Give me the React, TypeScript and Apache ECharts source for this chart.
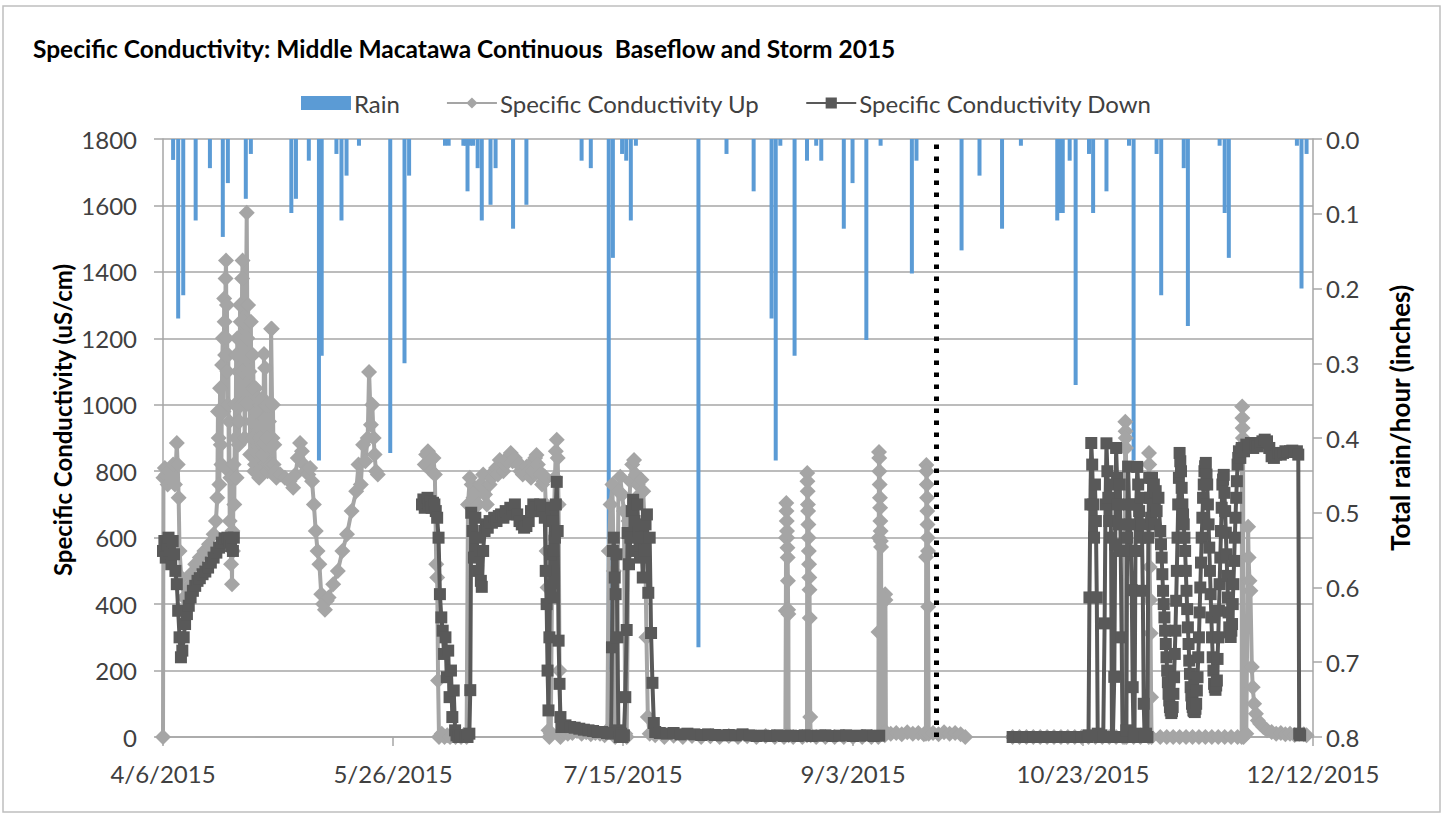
import React, { useEffect, useRef } from "react";
import * as echarts from "echarts";

// X axis runs in days after 4/6/2015, one tick every 50 days.
const xTickLabels = ["4/6/2015", "5/26/2015", "7/15/2015", "9/3/2015", "10/23/2015", "12/12/2015"];
const dayStep = 50;
const dayMax = 250;

// Dotted divider between the baseflow and storm periods (9/21/2015).
const dividerDay = 168;

// Hourly rain totals: [day, inches]
const rain: [number, number][] = [
  [2.2, 0.028], [3.3, 0.24], [4.4, 0.209], [7.1, 0.109], [10.2, 0.039], [13.0, 0.131], [14.1, 0.059],
  [18.0, 0.08], [19.1, 0.02], [27.9, 0.099], [28.9, 0.08], [31.7, 0.029], [33.9, 0.43], [34.5, 0.29],
  [37.7, 0.02], [38.8, 0.109], [39.9, 0.049], [42.6, 0.009], [49.4, 0.42], [52.5, 0.3], [53.5, 0.049],
  [61.3, 0.009], [62.1, 0.009], [65.3, 0.009], [65.8, 0.009], [66.2, 0.07], [66.7, 0.009], [67.4, 0.009],
  [68.4, 0.039], [69.3, 0.109], [71.2, 0.088], [72.3, 0.039], [76.1, 0.12], [79.0, 0.088], [91.0, 0.029],
  [93.0, 0.039], [96.9, 0.71], [97.8, 0.159], [99.8, 0.02], [100.7, 0.029], [101.7, 0.109], [102.8, 0.009],
  [116.4, 0.68], [122.5, 0.02], [128.4, 0.07], [132.3, 0.24], [133.2, 0.43], [134.2, 0.009], [137.3, 0.29],
  [140.0, 0.029], [142.0, 0.009], [143.1, 0.029], [148.0, 0.12], [149.9, 0.059], [152.9, 0.269],
  [156.0, 0.009], [162.8, 0.18], [163.8, 0.029], [173.6, 0.149], [177.5, 0.049], [182.4, 0.12],
  [186.5, 0.009], [194.4, 0.109], [194.9, 0.099], [195.6, 0.099], [197.1, 0.029], [198.4, 0.329],
  [201.3, 0.02], [202.2, 0.099], [205.1, 0.07], [210.0, 0.009], [211.0, 0.43], [216.0, 0.02],
  [217.0, 0.209], [221.9, 0.039], [222.8, 0.25], [229.7, 0.009], [230.8, 0.099], [231.7, 0.159],
  [246.5, 0.009], [247.5, 0.2], [248.6, 0.02],
];

// Specific conductivity, upstream sonde: [day, uS/cm]; null breaks the line.
const conductivityUp: [number, number | null][] = [
  [0, 0], [0.1, 780], [0.4, 810], [0.7, 790], [1.0, 760], [1.4, 800], [1.8, 780], [2.2, 820], [2.6, 760],
  [3.0, 885], [3.2, 820], [3.4, 720], [3.6, 560], [4.0, 480], [4.6, 420], [5.2, 450], [6.0, 490], [7.0, 520],
  [8.0, 540], [9.0, 560], [10.0, 580], [11.0, 610], [11.5, 650],
  [11.8, 720], [11.95, 980], [12.1, 900], [12.25, 760], [12.4, 1050], [12.55, 880], [12.7, 820],
  [12.85, 1120], [13.0, 1200], [13.15, 980], [13.3, 1320], [13.4, 1250], [13.5, 1150], [13.6, 1380],
  [13.7, 1434], [13.8, 1200], [13.9, 1300], [14.0, 1100], [14.1, 1000], [14.2, 1150], [14.3, 800],
  [14.4, 950], [14.5, 650], [14.65, 780], [14.8, 520], [14.9, 600], [15.0, 460], [15.1, 620], [15.2, 560],
  [15.35, 820], [15.5, 700], [15.65, 1000], [15.8, 900], [15.9, 1150], [16.0, 780], [16.15, 1200],
  [16.3, 1100], [16.45, 880], [16.6, 950], [16.75, 1300], [16.9, 1250], [17.0, 1000], [17.1, 1150],
  [17.2, 1380], [17.3, 1434], [17.45, 1100], [17.6, 1250], [17.75, 900], [17.9, 1000], [18.05, 1300],
  [18.2, 1578], [18.35, 1200], [18.5, 1300], [18.65, 1000], [18.8, 1100], [18.95, 850], [19.1, 1250],
  [19.25, 950], [19.4, 900], [19.55, 1150], [19.7, 1050], [19.85, 800], [20.0, 820], [20.15, 1050],
  [20.3, 980], [20.45, 800], [20.6, 850], [20.75, 1020], [20.9, 780], [21.05, 900], [21.2, 1000],
  [21.35, 800], [21.5, 880], [21.65, 1020], [21.8, 850], [21.95, 1153], [22.1, 1000], [22.2, 1111],
  [22.35, 880], [22.5, 1000], [22.6, 900], [22.75, 800], [22.9, 820], [23.05, 950], [23.2, 1000],
  [23.35, 820], [23.5, 1229], [23.65, 1229], [23.8, 900], [23.9, 1000], [24.05, 820], [24.2, 880],
  [24.35, 800], [24.5, 800], [24.65, 780], [24.8, 790],
  [25.5, 790], [26.5, 780], [27.5, 770], [28.3, 750], [28.8, 790], [29.3, 840], [29.8, 885],
  [30.2, 860], [30.6, 820], [31.0, 800], [31.6, 790], [32.0, 810], [32.4, 770], [32.8, 700], [33.2, 620],
  [33.6, 560], [34.0, 520], [34.4, 430], [34.8, 400], [35.2, 383], [35.6, 410], [36.0, 420], [37.0, 460],
  [38.0, 500], [39.0, 560], [40.0, 610], [41.0, 680], [42.0, 740], [42.5, 820], [43.0, 760], [43.5, 880],
  [44.0, 830], [44.5, 900], [44.8, 1099], [45.2, 940], [45.5, 1000], [45.8, 900], [46.0, 850],
  [46.3, 800], [46.7, 790], [46.8, null],
  [56.9, 820], [57.2, 850], [57.6, 860], [58.0, 830], [58.4, 800], [58.8, 840], [59.1, 790], [59.4, 520],
  [59.6, 480], [59.8, 170], [60.0, 0], [60.6, 10], [61.2, 0], [61.8, 5], [62.4, 0], [63.0, 8], [63.6, 0],
  [64.2, 5], [64.8, 0], [65.4, 6], [66.0, 0], [66.3, 700], [66.7, 780], [67.1, 760], [67.5, 720],
  [68.0, 740], [68.5, 700], [69.0, 760], [69.6, 790], [70.0, 730], [70.4, 700], [71.0, 760], [71.5, 780],
  [72.0, 800], [72.4, 810], [72.8, 790], [73.2, 834], [73.6, 810], [74.0, 800], [74.4, 820], [74.8, 830],
  [75.2, 845], [75.6, 855], [76.0, 830], [76.5, 840], [76.9, 830], [77.3, 820], [77.7, 800], [78.2, 790],
  [78.6, 800], [79.1, 814], [79.5, 800], [80.0, 780], [80.3, 800], [80.6, 830], [80.9, 840], [81.2, 849],
  [81.5, 820], [81.8, 800], [82.1, 790], [82.4, 760], [82.7, 770], [83.0, 783], [83.2, 700], [83.4, 560],
  [83.6, 450], [83.8, 20], [84.0, 0], [84.3, 10], [84.6, 500], [84.9, 600], [85.2, 780], [85.4, 860],
  [85.6, 895], [85.8, 840], [86.0, 700], [86.2, 200], [86.4, 0], [87.0, 15], [88.0, 10], [89.0, 12],
  [90.0, 18], [91.0, 10], [92.0, 14], [93.0, 8], [94.0, 12], [95.0, 10], [96.0, 5], [96.6, 20],
  [96.9, 560], [97.3, 700], [97.7, 760], [98.0, 500], [98.3, 0], [98.6, 20], [99.0, 740], [99.4, 783],
  [99.8, 730], [100.2, 680], [100.5, 10], [100.8, 0], [101.2, 650], [101.6, 770], [102.0, 820],
  [102.4, 834], [102.8, 790], [103.2, 760], [103.6, 730], [104.0, 774], [104.4, 740], [104.8, 600],
  [105.1, 300], [105.4, 60], [105.8, 10], [107, 5], [109, 0], [111, 4], [113, 0], [115, 3], [117, 0],
  [119, 2], [121, 0], [123, 3], [125, 0], [127, 2], [129, 0], [131, 3], [133, 0], [135, 0],
  [135.3, 5], [135.4, 380], [135.45, 600], [135.5, 704], [135.55, 680], [135.6, 650], [135.65, 620],
  [135.7, 600], [135.75, 570], [135.8, 540], [135.85, 470], [135.9, 383], [135.95, 370], [136.0, 5],
  [137, 0], [139, 0], [140.0, 5], [140.05, 795], [140.1, 770], [140.15, 740], [140.2, 700], [140.25, 680],
  [140.3, 640], [140.35, 600], [140.4, 560], [140.45, 520], [140.5, 480], [140.55, 443], [140.6, 358],
  [140.7, 60], [140.8, 5], [142, 0], [144, 0], [146, 0], [148, 0], [150, 0], [152, 0], [154, 0],
  [155.5, 0], [155.55, 316], [155.6, 600], [155.65, 858], [155.7, 840], [155.75, 800], [155.8, 760],
  [155.85, 720], [155.9, 690], [155.95, 650], [156.0, 620], [156.05, 590], [156.1, 572], [156.2, 10],
  [156.9, 5], [157.0, 430], [157.05, 412], [157.15, 15], [158.2, 10], [159.4, 12], [160.6, 8],
  [161.8, 14], [163.0, 10], [164.2, 12], [165.4, 8], [165.85, 10], [165.9, 542], [165.95, 819],
  [166.0, 800], [166.05, 760], [166.1, 720], [166.15, 680], [166.2, 640], [166.25, 600], [166.3, 560],
  [166.35, 392], [166.45, 10], [167.4, 12], [168.6, 8], [169.8, 14], [171.0, 10], [172.2, 12], [173.4, 8],
  [174.4, 0], [174.5, null],
  [184.7, 0], [186.2, 0], [187.7, 0], [189.2, 0], [190.7, 0], [192.2, 0], [193.7, 0], [195.2, 0],
  [196.7, 0], [198.2, 0], [199.7, 0], [201.2, 0], [202.7, 0], [204.2, 0], [205.7, 0], [207.2, 0],
  [208.7, 0], [209.1, 0], [209.15, 870], [209.2, 949], [209.25, 920], [209.3, 900], [209.35, 870],
  [209.45, 0], [211, 0], [212.5, 0], [214.3, 0], [214.35, 855], [214.4, 820], [214.5, 512], [214.6, 412],
  [214.7, 312], [214.8, 120], [214.9, 0], [216.8, 0], [218.2, 0], [219.6, 0], [221, 0], [222.4, 0],
  [223.8, 0], [225.2, 0], [226.6, 0], [228, 0], [229.4, 0], [230.8, 0], [232.2, 0], [233.6, 0],
  [234.5, 0], [234.55, 870], [234.6, 995], [234.65, 960], [234.7, 930], [234.75, 900], [234.8, 880],
  [234.9, 0], [235.5, 10], [235.9, 633], [236.0, 540], [236.2, 470], [236.4, 440], [236.7, 211],
  [236.9, 150], [237.2, 100], [237.6, 70], [238.0, 50], [238.5, 40], [239.2, 30], [240.0, 20], [241, 15],
  [242, 10], [243, 12], [244, 8], [245, 10], [246, 6], [247, 10], [248, 8], [248.6, 5],
];

// Specific conductivity, downstream sonde: [day, uS/cm]; null breaks the line.
const conductivityDown: [number, number | null][] = [
  [0.0, 560], [0.3, 590], [0.6, 540], [0.9, 580], [1.2, 600], [1.5, 560], [1.8, 520], [2.1, 590],
  [2.4, 550], [2.7, 500], [3.0, 460], [3.3, 380], [3.6, 300], [3.9, 240], [4.2, 260], [4.5, 300],
  [4.8, 340], [5.2, 370], [5.6, 395], [6.0, 420], [6.5, 440], [7.0, 455], [7.5, 470], [8.0, 478],
  [8.6, 490], [9.2, 498], [9.8, 510], [10.4, 525], [11.0, 540], [11.6, 555], [12.2, 570], [12.8, 585],
  [13.4, 598], [14.0, 600], [14.4, 590], [14.8, 575], [15.2, 560], [15.4, 600], [15.5, null],
  [56.3, 700], [56.6, 715], [56.9, 690], [57.2, 705], [57.5, 720], [57.8, 700], [58.1, 710], [58.4, 690],
  [58.7, 705], [59.0, 700], [59.3, 680], [59.6, 660], [59.9, 600], [60.2, 430], [60.5, 360], [60.8, 320],
  [61.1, 250], [61.4, 300], [61.7, 180], [62.0, 260], [62.3, 120], [62.6, 200], [62.9, 60], [63.2, 140],
  [63.5, 20], [63.8, 5], [64.2, 0], [64.6, 5], [65.0, 0], [65.4, 5], [65.8, 0], [66.2, 0], [66.6, 10],
  [66.8, 141], [67.0, 675], [67.3, 620], [67.6, 540], [67.9, 660], [68.2, 600], [68.5, 500], [68.8, 560],
  [69.1, 470], [69.3, 452], [69.6, 560], [69.9, 620], [70.2, 640], [70.6, 630], [71.0, 650], [71.5, 645],
  [72.0, 660], [72.5, 650], [73.0, 665], [73.5, 670], [74.0, 660], [74.5, 680], [75.0, 670], [75.5, 690],
  [76.0, 685], [76.5, 700], [77.0, 670], [77.5, 650], [78.0, 640], [78.5, 630], [79.0, 635], [79.5, 650],
  [80.0, 680], [80.5, 700], [81.0, 690], [81.5, 680], [82.0, 700], [82.5, 680], [83.0, 660], [83.2, 500],
  [83.4, 400], [83.6, 200], [83.8, 80], [84.0, 300], [84.2, 550], [84.4, 690], [84.6, 650], [84.8, 560],
  [85.0, 420], [85.2, 600], [85.4, 700], [85.6, 768], [85.8, 620], [86.0, 290], [86.2, 160], [86.4, 60],
  [86.6, 30], [87.5, 35], [88.5, 30], [89.5, 28], [90.5, 25], [91.5, 22], [92.5, 20], [93.5, 18],
  [94.5, 15], [95.5, 15], [96.5, 12], [97.4, 10], [97.6, 270], [97.8, 560], [98.0, 600], [98.2, 480],
  [98.4, 430], [98.6, 550], [98.8, 300], [99.0, 20], [99.3, 0], [99.6, 10], [99.9, 0], [100.2, 5],
  [100.5, 120], [100.8, 322], [101.0, 614], [101.3, 520], [101.6, 600], [101.9, 680], [102.2, 714],
  [102.5, 650], [102.8, 560], [103.1, 700], [103.4, 620], [103.7, 540], [104.0, 600], [104.3, 480],
  [104.6, 560], [104.9, 640], [105.2, 670], [105.5, 434], [105.8, 600], [106.1, 313], [106.4, 163],
  [106.7, 42], [107.0, 15], [108, 12], [109.5, 10], [111, 12], [112.5, 8], [114, 10], [115.5, 8], [117, 6],
  [118.5, 8], [120, 6], [121.5, 5], [123, 6], [124.5, 5], [126, 8], [127.5, 5], [129, 3], [130.5, 4],
  [132, 3], [133.5, 5], [135, 3], [136.5, 4], [138, 3], [139.5, 5], [141, 3], [142.5, 4], [144, 5],
  [145.5, 3], [147, 4], [148.5, 5], [150, 3], [151.5, 4], [153, 5], [154.5, 3], [155.7, 4], [155.8, null],
  [184.7, 0], [186.2, 0], [187.7, 0], [189.2, 0], [190.7, 0], [192.2, 0], [193.7, 0], [195.2, 0],
  [196.7, 0], [198.2, 0], [199.7, 0], [201.0, 0], [201.2, 5], [201.4, 420], [201.6, 700], [201.8, 885],
  [202.0, 820], [202.2, 700], [202.4, 600], [202.6, 760], [202.8, 650], [203.0, 420], [203.2, 10],
  [203.6, 0], [204.0, 5], [204.4, 0], [204.7, 342], [204.9, 700], [205.1, 884], [205.3, 800], [205.5, 720],
  [205.7, 650], [205.9, 760], [206.1, 600], [206.3, 0], [206.5, 0], [206.8, 181], [207.0, 580],
  [207.2, 870], [207.4, 780], [207.6, 700], [207.8, 640], [208.0, 760], [208.2, 560], [208.4, 300],
  [208.6, 0], [209.0, 0], [209.4, 20], [209.6, 600], [209.8, 814], [210.0, 700], [210.2, 640],
  [210.4, 560], [210.6, 442], [210.8, 150], [211.0, 0], [211.2, 10], [211.4, 560], [211.6, 700],
  [211.8, 813], [212.0, 760], [212.2, 680], [212.4, 600], [212.6, 720], [212.8, 640], [213.0, 440],
  [213.2, 100], [213.4, 0], [213.7, 10], [214.0, 0], [214.2, 600], [214.4, 780], [214.6, 720],
  [214.8, 660], [215.0, 780], [215.2, 700], [215.4, 760], [215.6, 640], [215.8, 740], [216.0, 680],
  [216.4, 720], [216.8, 620], [216.95, 580], [217.1, 540], [217.25, 490], [217.4, 440], [217.55, 400],
  [217.7, 360], [217.85, 320], [218.0, 280], [218.15, 240], [218.3, 200], [218.45, 165], [218.6, 130],
  [218.75, 110], [218.9, 90], [219.05, 80], [219.2, 72], [219.35, 78], [219.5, 90], [219.65, 130],
  [219.8, 180], [219.95, 250], [220.1, 320], [220.25, 410], [220.4, 500], [220.55, 600], [220.7, 700],
  [220.85, 780], [221.0, 855], [221.15, 830], [221.3, 800], [221.45, 750], [221.6, 700], [221.75, 670],
  [221.9, 640], [222.05, 600], [222.2, 560], [222.35, 500], [222.5, 440], [222.65, 385], [222.8, 330],
  [222.95, 280], [223.1, 230], [223.25, 190], [223.4, 150], [223.55, 125], [223.7, 100], [223.85, 90],
  [224.0, 80], [224.15, 78], [224.3, 75], [224.45, 85], [224.6, 100], [224.75, 140], [224.9, 180],
  [225.05, 240], [225.2, 300], [225.35, 375], [225.5, 450], [225.65, 525], [225.8, 600], [225.95, 660],
  [226.1, 720], [226.25, 760], [226.4, 800], [226.55, 815], [226.7, 825], [226.85, 790], [227.0, 760],
  [227.15, 700], [227.3, 640], [227.45, 570], [227.6, 500], [227.75, 430], [227.9, 360], [228.05, 300],
  [228.2, 240], [228.35, 200], [228.5, 160], [228.65, 150], [228.8, 142], [228.95, 155], [229.1, 170],
  [229.25, 235], [229.4, 300], [229.55, 380], [229.7, 460], [229.85, 540], [230.0, 620], [230.15, 690],
  [230.3, 760], [230.45, 775], [230.6, 789], [230.75, 735], [230.9, 680], [231.05, 615], [231.2, 550],
  [231.35, 485], [231.5, 420], [231.65, 375], [231.8, 330], [231.95, 315], [232.1, 301], [232.25, 320],
  [232.4, 340], [232.55, 400], [232.7, 460], [232.85, 530], [233.0, 600], [233.15, 660], [233.3, 720],
  [233.45, 770], [233.6, 820], [233.75, 840], [233.9, 860], [234.2, 840], [234.5, 870], [235.0, 860],
  [235.5, 880], [236.0, 873], [236.5, 885], [237.0, 870], [237.5, 880], [238.0, 875], [238.5, 885],
  [239.0, 890], [239.5, 895], [240.0, 890], [240.5, 870], [241.0, 845], [241.5, 840], [242.0, 850],
  [242.5, 855], [243.0, 850], [243.5, 855], [244.0, 860], [244.5, 858], [245.0, 860], [245.5, 862],
  [246.0, 858], [246.5, 860], [246.8, 850], [247.0, 10], [247.2, 5],
];

const FONT = "Lato, 'Open Sans', sans-serif";
const AXIS_GREY = "#A6A6A6";
const toSeries = (rows: [number, number | null][]) => rows.map(([d, v]) => [d, v === null ? "-" : v]);

export default function App() {
  const ref = useRef<HTMLDivElement>(null);

  useEffect(() => {
    document.body.style.margin = "0";
    const chart = echarts.init(ref.current as HTMLDivElement, null, { renderer: "svg" });
    chart.setOption({
      animation: false,
      backgroundColor: "#ffffff",
      textStyle: { fontFamily: FONT },
      title: {
        text: "Specific Conductivity: Middle Macatawa Continuous  Baseflow and Storm 2015",
        left: 28,
        top: 31,
        textStyle: { fontFamily: FONT, fontSize: 24.5, fontWeight: "bold", color: "#000000" },
      },
      legend: {
        left: 296,
        top: 86,
        itemWidth: 50,
        itemHeight: 14,
        itemGap: 46,
        textStyle: { fontFamily: FONT, fontSize: 24, color: "#404040", padding: [0, 0, 0, -2] },
        data: [
          { name: "Rain", icon: "rect" },
          { name: "Specific Conductivity Up" },
          { name: "Specific Conductivity Down" },
        ],
      },
      grid: { left: 163, right: 135, top: 139, bottom: 82, containLabel: false },
      xAxis: {
        type: "value",
        min: 0,
        max: dayMax,
        interval: dayStep,
        axisLine: { show: true, lineStyle: { color: AXIS_GREY, width: 1.5 } },
        axisTick: { show: true, length: 9, lineStyle: { color: AXIS_GREY, width: 1.5 } },
        splitLine: { show: false },
        axisLabel: {
          margin: 24,
          fontFamily: FONT,
          fontSize: 24,
          color: "#404040",
          formatter: (v: number) => xTickLabels[Math.round(v / dayStep)] ?? "",
        },
      },
      yAxis: [
        {
          type: "value",
          min: 0,
          max: 1800,
          interval: 200,
          axisLine: { show: true, lineStyle: { color: AXIS_GREY, width: 1.5 } },
          axisTick: { show: true, length: 9, lineStyle: { color: AXIS_GREY, width: 1.5 } },
          splitLine: { show: true, lineStyle: { color: AXIS_GREY, width: 1.5 } },
          axisLabel: {
            margin: 26,
            fontFamily: FONT,
            fontSize: 24,
            color: "#404040",
            formatter: (v: number) => String(v),
          },
        },
        {
          type: "value",
          min: 0,
          max: 0.8,
          interval: 0.1,
          inverse: true,
          position: "right",
          axisLine: { show: true, lineStyle: { color: AXIS_GREY, width: 1.5 } },
          axisTick: { show: true, length: 9, lineStyle: { color: AXIS_GREY, width: 1.5 } },
          splitLine: { show: false },
          axisLabel: {
            margin: 13,
            fontFamily: FONT,
            fontSize: 24,
            color: "#404040",
            formatter: (v: number) => v.toFixed(1),
          },
        },
      ],
      graphic: [
        {
          type: "rect",
          silent: true,
          shape: { x: 3, y: 6, width: 1437, height: 806 },
          style: { fill: "none", stroke: "#BFBFBF", lineWidth: 1.5 },
        },
        {
          type: "text",
          x: 62,
          y: 420,
          rotation: Math.PI / 2,
          style: {
            text: "Specific Conductivity (uS/cm)",
            fontFamily: FONT,
            fontSize: 24,
            fontWeight: "bold",
            fill: "#000000",
            align: "center",
            verticalAlign: "middle",
          },
        },
        {
          type: "text",
          x: 1400,
          y: 418,
          rotation: Math.PI / 2,
          style: {
            text: "Total rain/hour (inches)",
            fontFamily: FONT,
            fontSize: 26,
            fontWeight: "bold",
            fill: "#000000",
            align: "center",
            verticalAlign: "middle",
          },
        },
      ],
      series: [
        {
          name: "Rain",
          type: "bar",
          yAxisIndex: 1,
          barWidth: 4,
          barGap: "-100%",
          itemStyle: { color: "#5B9BD5" },
          data: rain,
          z: 1,
        },
        {
          name: "Specific Conductivity Up",
          type: "line",
          yAxisIndex: 0,
          symbol: "diamond",
          symbolSize: 16,
          showSymbol: true,
          connectNulls: false,
          lineStyle: { color: "#A5A5A5", width: 4 },
          itemStyle: { color: "#A5A5A5" },
          data: toSeries(conductivityUp),
          z: 2,
        },
        {
          name: "Specific Conductivity Down",
          type: "line",
          yAxisIndex: 0,
          symbol: "rect",
          symbolSize: 12,
          showSymbol: true,
          connectNulls: false,
          lineStyle: { color: "#595959", width: 4 },
          itemStyle: { color: "#595959" },
          data: toSeries(conductivityDown),
          markLine: {
            silent: true,
            symbol: "none",
            label: { show: false },
            lineStyle: { color: "#000000", width: 5, type: [4.5, 7.5] },
            data: [{ xAxis: dividerDay }],
          },
          z: 3,
        },
      ],
    });
    return () => chart.dispose();
  }, []);

  return <div ref={ref} style={{ width: 1448, height: 819 }} />;
}
